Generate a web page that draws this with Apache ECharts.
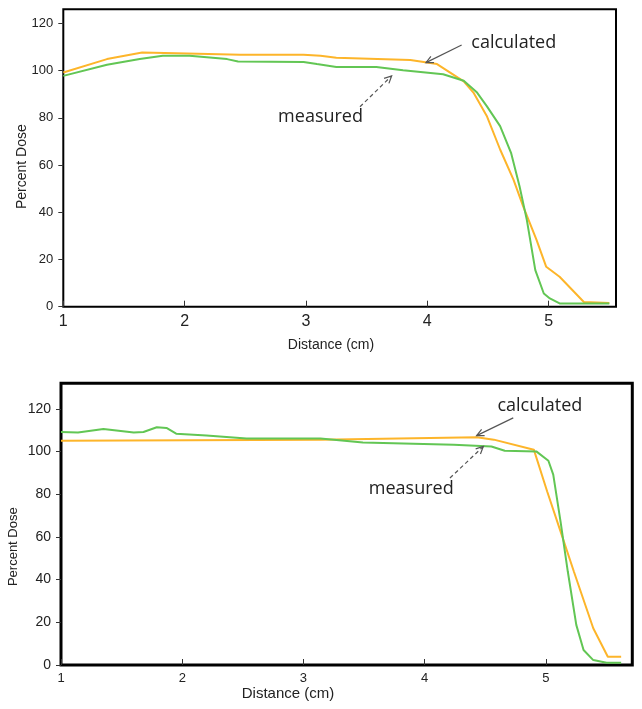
<!DOCTYPE html>
<html><head><meta charset="utf-8">
<script src="https://cdn.jsdelivr.net/npm/echarts@6/dist/echarts.min.js"></script>
<style>html,body{margin:0;padding:0;background:#fff}#c{width:642px;height:709px}</style>
</head><body><div id="c"></div><script>
// ---- Top panel data ----
const topCalcX = [1.0, 1.36, 1.65, 2.02, 2.46, 2.98, 3.12, 3.25, 3.86, 4.08, 4.3, 4.38, 4.49, 4.6, 4.71, 4.79, 4.9, 4.98, 5.09, 5.29, 5.5];
const topCalcY = [99.2, 104.9, 107.7, 107.3, 106.7, 106.7, 106.3, 105.5, 104.5, 102.8, 95.5, 90.7, 80.8, 66.6, 53.8, 42.5, 28.3, 16.9, 12.7, 2.0, 1.6];
const topMeasX = [1.0, 1.36, 1.63, 1.82, 2.04, 2.35, 2.44, 2.98, 3.09, 3.25, 3.58, 3.8, 4.13, 4.3, 4.41, 4.49, 4.6, 4.69, 4.76, 4.82, 4.89, 4.96, 5.01, 5.09, 5.5];
const topMeasY = [97.8, 102.5, 104.9, 106.3, 106.3, 104.9, 103.9, 103.7, 102.8, 101.6, 101.6, 100.2, 98.5, 95.7, 90.7, 85, 76.5, 65.2, 51, 36.8, 15.5, 5.6, 3.5, 1.4, 1.4];
// ---- Bottom panel data ----
const botCalcX = [1.0, 3.14, 4.43, 4.57, 4.9, 5.01, 5.12, 5.23, 5.39, 5.51, 5.62];
const botCalcY = [105.1, 105.6, 106.7, 105.6, 100.9, 81.3, 62.6, 43.8, 17.2, 3.9, 3.9];
const botMeasX = [1.0, 1.14, 1.35, 1.6, 1.68, 1.79, 1.87, 1.95, 2.2, 2.53, 3.14, 3.25, 3.49, 4.24, 4.55, 4.66, 4.92, 5.02, 5.06, 5.12, 5.18, 5.25, 5.31, 5.39, 5.5, 5.62];
const botMeasY = [109.2, 108.9, 110.6, 108.9, 109.2, 111.4, 111.1, 108.4, 107.5, 106.1, 106.1, 105.6, 104.3, 103.2, 102.4, 100.4, 100.1, 95.7, 89.2, 67.3, 43.8, 18.8, 7, 2.3, 1.1, 1.1];
// ---- Axis ticks ----
const xTicks = [1, 2, 3, 4, 5];
const yTicks = [0, 20, 40, 60, 80, 100, 120];
const xName = 'Distance (cm)';
const yName = 'Percent Dose';
// annotation anchors in data coords
const topAnn = {calc: {text: 'calculated', at: [4.712, 111.6], from: [4.283, 110.9], to: [3.989, 103.4]},
                meas: {text: 'measured', at: [3.12, 80.5], from: [3.445, 84.7], to: [3.706, 97.8]}};
const botAnn = {calc: {text: 'calculated', at: [4.95, 121.2], from: [4.73, 115.8], to: [4.428, 107.5]},
                meas: {text: 'measured', at: [3.889, 82.6], from: [4.208, 87.6], to: [4.483, 102.4]}};

const zip = (a, b) => a.map((v, i) => [v, b[i]]);
const ORANGE = '#FDB52A', GREEN = '#62C654';
const FONT = 'Liberation Sans, Arial, sans-serif';

function xAxis(gi, max, fs) {
  return {type: 'value', gridIndex: gi, min: 1, max: max, interval: 1,
    axisLine: {show: false}, splitLine: {show: false},
    axisTick: {show: true, inside: true, length: 6, customValues: xTicks, lineStyle: {color: '#333'}},
    axisLabel: {customValues: xTicks, fontSize: fs, color: '#222', margin: 7, fontFamily: FONT}};
}
function yAxis(gi, max, fs) {
  return {type: 'value', gridIndex: gi, min: 0, max: max, interval: 20,
    axisLine: {show: false}, splitLine: {show: false},
    axisTick: {show: true, inside: false, length: 5, customValues: yTicks, lineStyle: {color: '#333'}},
    axisLabel: {customValues: yTicks, fontSize: fs, color: '#222', margin: 10, fontFamily: FONT}};
}
function line(name, xi, data, color) {
  return {type: 'line', name: name, xAxisIndex: xi, yAxisIndex: xi, data: data, showSymbol: false,
    symbol: 'none', smooth: false, lineStyle: {color: color, width: 2}, z: color === GREEN ? 3 : 2};
}

const chart = echarts.init(document.getElementById('c'), null, {renderer: 'canvas'});
chart.setOption({
  animation: false,
  backgroundColor: '#fff',
  grid: [
    {left: 63.3, top: 9.3, width: 552.7, height: 297.4, show: true, borderColor: '#000', borderWidth: 2, backgroundColor: 'transparent'},
    {left: 61, top: 383.3, width: 571.3, height: 281.7, show: true, borderColor: '#000', borderWidth: 3, backgroundColor: 'transparent'}
  ],
  xAxis: [xAxis(0, 5.555, 16), xAxis(1, 5.712, 13)],
  yAxis: [yAxis(0, 126, 13), yAxis(1, 132, 14)],
  series: [
    line('calculated', 0, zip(topCalcX, topCalcY), ORANGE),
    line('measured', 0, zip(topMeasX, topMeasY), GREEN),
    line('calculated', 1, zip(botCalcX, botCalcY), ORANGE),
    line('measured', 1, zip(botMeasX, botMeasY), GREEN)
  ]
});

function arrow(gi, a, dashed) {
  const p0 = chart.convertToPixel({gridIndex: gi}, a.from);
  const p1 = chart.convertToPixel({gridIndex: gi}, a.to);
  const ang = Math.atan2(p1[1] - p0[1], p1[0] - p0[0]);
  const L = 8, w = 0.45;
  const h1 = [p1[0] - L * Math.cos(ang - w), p1[1] - L * Math.sin(ang - w)];
  const h2 = [p1[0] - L * Math.cos(ang + w), p1[1] - L * Math.sin(ang + w)];
  const st = {stroke: '#555', lineWidth: 1.2, lineDash: dashed ? [4, 3] : null};
  return [
    {type: 'line', shape: {x1: p0[0], y1: p0[1], x2: p1[0], y2: p1[1]}, style: st, z: 10},
    {type: 'polyline', shape: {points: [h1, p1, h2]}, style: {stroke: '#555', lineWidth: 1.2, fill: null}, z: 10}
  ];
}
function label(gi, a) {
  const p = chart.convertToPixel({gridIndex: gi}, a.at);
  return {type: 'text', x: p[0], y: p[1], z: 10,
    style: {text: a.text, fontSize: 18, fontFamily: 'Open Sans', fill: '#222', align: 'center', verticalAlign: 'middle'}};
}
const g = [];
[[0, topAnn], [1, botAnn]].forEach(([gi, ann]) => {
  g.push(...arrow(gi, ann.calc, false), ...arrow(gi, ann.meas, true), label(gi, ann.calc), label(gi, ann.meas));
});
// axis titles
g.push({type: 'text', x: 21.7, y: 166.7, rotation: Math.PI / 2, style: {text: yName, fontSize: 14, fontFamily: FONT, fill: '#222', align: 'center', verticalAlign: 'middle'}});
g.push({type: 'text', x: 13.3, y: 546.7, rotation: Math.PI / 2, style: {text: yName, fontSize: 13, fontFamily: FONT, fill: '#222', align: 'center', verticalAlign: 'middle'}});
g.push({type: 'text', x: 331, y: 345, style: {text: xName, fontSize: 14, fontFamily: FONT, fill: '#222', align: 'center', verticalAlign: 'middle'}});
g.push({type: 'text', x: 288, y: 694.3, style: {text: xName, fontSize: 15, fontFamily: FONT, fill: '#222', align: 'center', verticalAlign: 'middle'}});
chart.setOption({graphic: g});
</script></body></html>
